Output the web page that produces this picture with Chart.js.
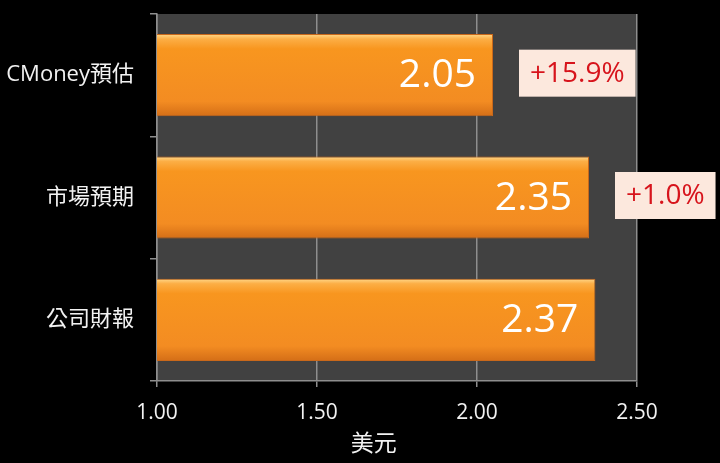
<!DOCTYPE html>
<html>
<head>
<meta charset="utf-8">
<script src="https://cdn.jsdelivr.net/npm/chart.js@4"></script>
<style>
  html, body { margin: 0; padding: 0; background: #000; }
  #wrap { width: 720px; height: 463px; }
</style>
</head>
<body>
<div id="wrap"><canvas id="myChart"></canvas></div>
<script>
// values
const categories = ['CMoney預估', '市場預期', '公司財報'];
const eps = [2.05, 2.35, 2.37];
const diffLabels = ['+15.9%', '+1.0%', ''];
const xTicks = [1.00, 1.50, 2.00, 2.50];

const fontLatin = '"Open Sans", "Noto Sans CJK TC", sans-serif';

// dark plot background
const plotBg = {
    id: 'plotBg',
    beforeDraw(chart) {
        const a = chart.chartArea, ctx = chart.ctx;
        ctx.save();
        ctx.fillStyle = '#414141';
        ctx.fillRect(a.left, a.top, a.right - a.left, a.bottom - a.top);
        ctx.restore();
    }
};

// value text inside bars + the pink boxes with the change
const barLabels = {
    id: 'barLabels',
    afterDatasetsDraw(chart) {
        const ctx = chart.ctx;
        const meta = chart.getDatasetMeta(0);
        ctx.save();
        meta.data.forEach(function (bar, i) {
            ctx.font = '39px ' + fontLatin;
            ctx.fillStyle = '#ffffff';
            ctx.textAlign = 'right';
            ctx.textBaseline = 'middle';
            ctx.fillText(eps[i].toFixed(2), bar.x - 17, bar.y + 1);

            if (diffLabels[i]) {
                ctx.font = '28px ' + fontLatin;
                let w = ctx.measureText(diffLabels[i]).width + 22;
                let h = 47;
                let bx = bar.x + 26;
                let by = bar.y - h / 2 - 2;
                ctx.fillStyle = '#FCE8DD';
                ctx.fillRect(bx, by, w, h);
                ctx.fillStyle = '#D7141C';
                ctx.textAlign = 'center';
                ctx.fillText(diffLabels[i], bx + w / 2, by + h / 2 + 1);
            }
        });
        ctx.restore();
    }
};

function barFill(context) {
    const chart = context.chart;
    const y = chart.scales.y;
    if (!chart.chartArea || !y || y.getPixelForValue(0) == null) return '#F7941E';
    const c = y.getPixelForValue(context.dataIndex);
    const half = 41;
    const g = chart.ctx.createLinearGradient(0, c - half, 0, c + half);
    g.addColorStop(0, '#FFD88A');
    g.addColorStop(0.06, '#FCAE45');
    g.addColorStop(0.18, '#F8961F');
    g.addColorStop(0.82, '#F38C22');
    g.addColorStop(1, '#D46E17');
    return g;
}

Chart.defaults.font.family = fontLatin;

let ctx = document.getElementById('myChart').getContext('2d');
let myChart = new Chart(ctx, {
    type: 'bar',
    data: {
        labels: categories,
        datasets: [{
            data: eps,
            backgroundColor: barFill,
            borderColor: '#C9681A',
            borderWidth: 1,
            borderSkipped: false,
            categoryPercentage: 0.672,
            barPercentage: 1
        }]
    },
    plugins: [plotBg, barLabels],
    options: {
        indexAxis: 'y',
        responsive: true,
        maintainAspectRatio: false,
        animation: false,
        layout: { padding: { top: 14, right: 83, bottom: 0, left: 0 } },
        plugins: {
            legend: { display: false },
            tooltip: { enabled: false }
        },
        scales: {
            x: {
                min: 1,
                max: 2.5,
                afterBuildTicks: function (scale) {
                    scale.ticks = xTicks.map(v => ({ value: v }));
                },
                afterFit: function (scale) {
                    scale.height = 82;
                    scale.paddingLeft = 0;
                    scale.paddingRight = 0;
                },
                grid: {
                    color: '#8E8E8E',
                    lineWidth: 1.5,
                    tickLength: 6,
                    drawTicks: true
                },
                border: { color: '#8E8E8E', width: 1.5 },
                ticks: {
                    color: '#F2F2F2',
                    padding: 13,
                    font: { size: 21 },
                    callback: v => Number(v).toFixed(2)
                },
                title: {
                    display: true,
                    // trailing spaces pull the title left, as in the picture
                    text: '美元         ',
                    color: '#F2F2F2',
                    font: { size: 23, family: '"Noto Sans CJK TC", sans-serif' },
                    padding: { top: 0, bottom: 7 }
                }
            },
            y: {
                afterFit: function (scale) {
                    scale.width = 157;
                    scale.paddingTop = 0;
                    scale.paddingBottom = 0;
                },
                grid: {
                    offset: true,
                    drawOnChartArea: false,
                    color: '#8E8E8E',
                    lineWidth: 1.5,
                    tickLength: 7
                },
                border: { color: '#8E8E8E', width: 1.5 },
                ticks: {
                    color: '#F2F2F2',
                    padding: 16,
                    font: { size: 22 }
                }
            }
        }
    }
});
</script>
</body>
</html>
